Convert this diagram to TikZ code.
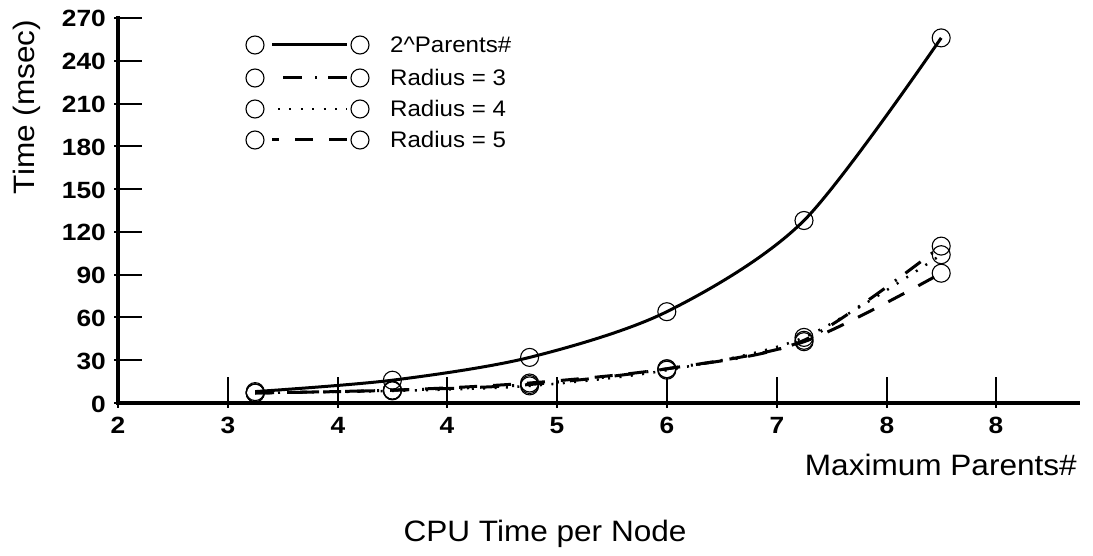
\documentclass[tikz,border=0pt]{standalone}
\usepackage{fontspec}
\usepackage{graphicx}
\setmainfont{Liberation Sans}
\newcommand\widetext[1]{\scalebox{1.07}[1]{#1}}
\newcommand\widenum[1]{\scalebox{1.12}[1]{#1}}
\begin{document}
\begin{tikzpicture}[x=1pt,y=-1pt,
  axisline/.style={line width=3.5pt},
  tickmark/.style={line width=2pt},
  marker/.style={draw,circle,minimum size=18pt,inner sep=0pt,line width=1.1pt},
  ticklbl/.style={inner sep=0pt,font=\fontsize{23.5}{23.5}\selectfont\bfseries},
  keytext/.style={inner sep=0pt,font=\fontsize{22.5}{22.5}\selectfont},
  title/.style={inner sep=0pt,font=\fontsize{29.5}{29.5}\selectfont},
  curve/.style={line width=3pt},
  dashdotline/.style={line width=3pt,dash pattern=on 19pt off 13pt on 2pt off 11pt},
  dotline/.style={line width=2.5pt,dash pattern=on 2pt off 9.4pt},
  dashline/.style={line width=3pt,dash pattern=on 18pt off 16pt}]
\useasboundingbox (0,0) rectangle (1093,556);

% axes
\draw[axisline] (118,16) -- (118,405);
\draw[axisline] (116,403) -- (1080,403);

% y ticks and labels
\foreach \v [count=\i] in {0,30,...,270} {
  \pgfmathsetmacro\yy{403-\v*1.426}
  \draw[tickmark] (114,\yy) -- (142,\yy);
  \node[ticklbl,anchor=base east] (ylab\i) at (106,\yy+9) {\widenum{\v}};
}

% x ticks and labels
\foreach \xx/\t [count=\i] in {118/2,228/3,338/4,447/4,557/5,667/6,777/7,887/8,996/8} {
  \draw[tickmark] (\xx,377) -- (\xx,408);
  \node[ticklbl,anchor=base] (xlab\i) at (\xx,433) {\widenum{\t}};
}

% axis titles
\node[title,anchor=center,rotate=90] (ytitle) at (27,107) {\widetext{Time (msec)}};
\node[title,anchor=base east] (xtitle) at (1077,475) {\widetext{Maximum Parents\#}};
\node[title,anchor=base] (ctitle) at (545,541) {\widetext{CPU Time per Node}};

% data points: 2^Parents#
\foreach \xx/\yy [count=\i] in {255.2/391.6,392.4/380.2,529.6/357.4,666.8/311.7,804/220.5,941.2/37.9}
  \node[marker] (s\i) at (\xx,\yy) {};
% Radius = 3
\foreach \xx/\yy [count=\i] in {255.2/393,392.4/390.2,529.6/384.5,666.8/368.8,804/340.3,941.2/246.1}
  \node[marker] (r\i) at (\xx,\yy) {};
% Radius = 4
\foreach \xx/\yy [count=\i] in {255.2/393,392.4/390.9,529.6/385.9,666.8/370.2,804/337.4,941.2/254.7}
  \node[marker] (q\i) at (\xx,\yy) {};
% Radius = 5
\foreach \xx/\yy [count=\i] in {255.2/393,392.4/390.2,529.6/383,666.8/368.8,804/341.7,941.2/273.2}
  \node[marker] (d\i) at (\xx,\yy) {};

% curves
\draw[curve] plot[smooth] coordinates {(s1.center) (s2.center) (s3.center) (s4.center) (s5.center) (s6.center)};
\draw[dashdotline] plot[smooth] coordinates {(r1.center) (r2.center) (r3.center) (r4.center) (r5.center) (r6.center)};
\draw[dotline] plot[smooth] coordinates {(q1.center) (q2.center) (q3.center) (q4.center) (q5.center) (q6.center)};
\draw[dashline] plot[smooth] coordinates {(d1.center) (d2.center) (d3.center) (d4.center) (d5.center) (d6.center)};

% legend
\foreach \yy/\nm in {45/a,78/b,109/c,140/d} {
  \node[marker] (k\nm1) at (255,\yy) {};
  \node[marker] (k\nm2) at (360,\yy) {};
}
\draw[curve,shorten <=7.5pt,shorten >=3pt] (ka1) -- (ka2);
\draw[dashdotline,dash phase=34pt,shorten <=7.5pt,shorten >=3pt] (kb1) -- (kb2);
\draw[dotline,shorten <=13.5pt,shorten >=3pt] (kc1) -- (kc2);
\draw[dashline,dash phase=11pt,shorten <=7.5pt,shorten >=3pt] (kd1) -- (kd2);
\node[keytext,anchor=base west] (ta) at (390,53) {\widetext{2\textasciicircum Parents\#}};
\node[keytext,anchor=base west] (tb) at (390,86) {\widetext{Radius = 3}};
\node[keytext,anchor=base west] (tc) at (390,117) {\widetext{Radius = 4}};
\node[keytext,anchor=base west] (td) at (390,148) {\widetext{Radius = 5}};
\end{tikzpicture}
\end{document}
